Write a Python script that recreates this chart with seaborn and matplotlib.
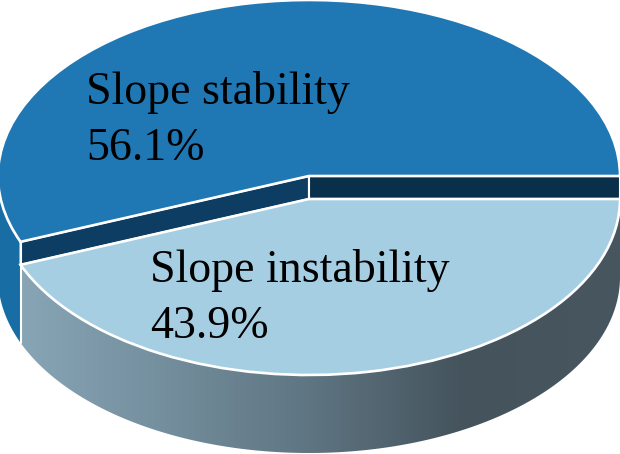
import numpy as np
import matplotlib
matplotlib.use("Agg")
import matplotlib.pyplot as plt
from matplotlib.patches import Polygon
import seaborn as sns

# values
labels = ["Slope stability", "Slope instability"]
shares = [56.1, 43.9]
top_colors = ["#1f77b4", "#a6cee3"]
band_colors = ["#0e3d63", "#0a2f4b"]
stable_wall_colors = ["#1a6ea6", "#17598a"]
unstable_wall_colors = ["#8ba9ba", "#75909f", "#5f7582", "#44535c", "#47565f"]

# picture geometry in pixels
WIDTH, HEIGHT = 620, 454
CX, CY, RX, RY = 309, 176, 311, 176
GAP = 23
DEPTH = 78


def to_x(px):
    return (px - CX) / RX


def to_y(py):
    return (CY - py) / RY


def wall_polygon(start, end, y_shift, depth):
    # ring side between two angles, in unit pie coordinates
    t = np.radians(np.linspace(start, end, 200))
    top = np.column_stack([np.cos(t), np.sin(t) + y_shift])
    bottom = np.column_stack([np.cos(t[::-1]), np.sin(t[::-1]) + y_shift - depth])
    return np.vstack([top, bottom])


def gradient_wall(ax, poly, colors):
    cmap = sns.blend_palette(colors, as_cmap=True)
    img = ax.imshow(np.linspace(0, 1, 256)[None, :], cmap=cmap, aspect="auto",
                    extent=(-1, 1, -2, 1), zorder=1)
    clip = Polygon(poly, closed=True, transform=ax.transData)
    img.set_clip_path(clip)


sns.set_theme(style="white")
plt.rcParams["font.family"] = ["Liberation Serif", "DejaVu Serif"]

fig = plt.figure(figsize=(WIDTH / 100, HEIGHT / 100), dpi=100)
ax = fig.add_axes([0, 0, 1, 1])

wedges, _ = ax.pie(shares, colors=top_colors, startangle=0, radius=1, counterclock=True,
                   wedgeprops={"edgecolor": "white", "linewidth": 1.9, "zorder": 3})
gap = GAP / RY
depth = DEPTH / RY
wedges[1].set_center((0, -gap))

split = wedges[0].theta2
ct, st = np.cos(np.radians(split)), np.sin(np.radians(split))

# side walls
gradient_wall(ax, wall_polygon(180, split, 0, depth + gap), stable_wall_colors)
gradient_wall(ax, wall_polygon(split, 360, -gap, depth), unstable_wall_colors)

# cut faces between the two slices
ax.add_patch(Polygon([(0, 0), (ct, st), (ct, st - gap), (0, -gap)], closed=True,
                     facecolor=band_colors[0], edgecolor="white", linewidth=1.5, zorder=2))
ax.add_patch(Polygon([(0, 0), (1, 0), (1, -gap), (0, -gap)], closed=True,
                     facecolor=band_colors[1], edgecolor="white", linewidth=1.5, zorder=2))
# white seam down the left corner
ax.plot([ct, ct], [st, st - gap - depth], color="white", linewidth=1.5, zorder=2)

ax.set_aspect("auto")
ax.set_xlim(to_x(0), to_x(WIDTH))
ax.set_ylim(to_y(HEIGHT), to_y(0))
ax.axis("off")

label_pos = [(86, 160), (150, 338)]
for label, share, (px, py) in zip(labels, shares, label_pos):
    ax.text(to_x(px), to_y(py), f"{label}\n{share}%", fontsize=33, color="black",
            ha="left", va="baseline", linespacing=1.43, zorder=5)

fig.savefig("out.png", dpi=100)
